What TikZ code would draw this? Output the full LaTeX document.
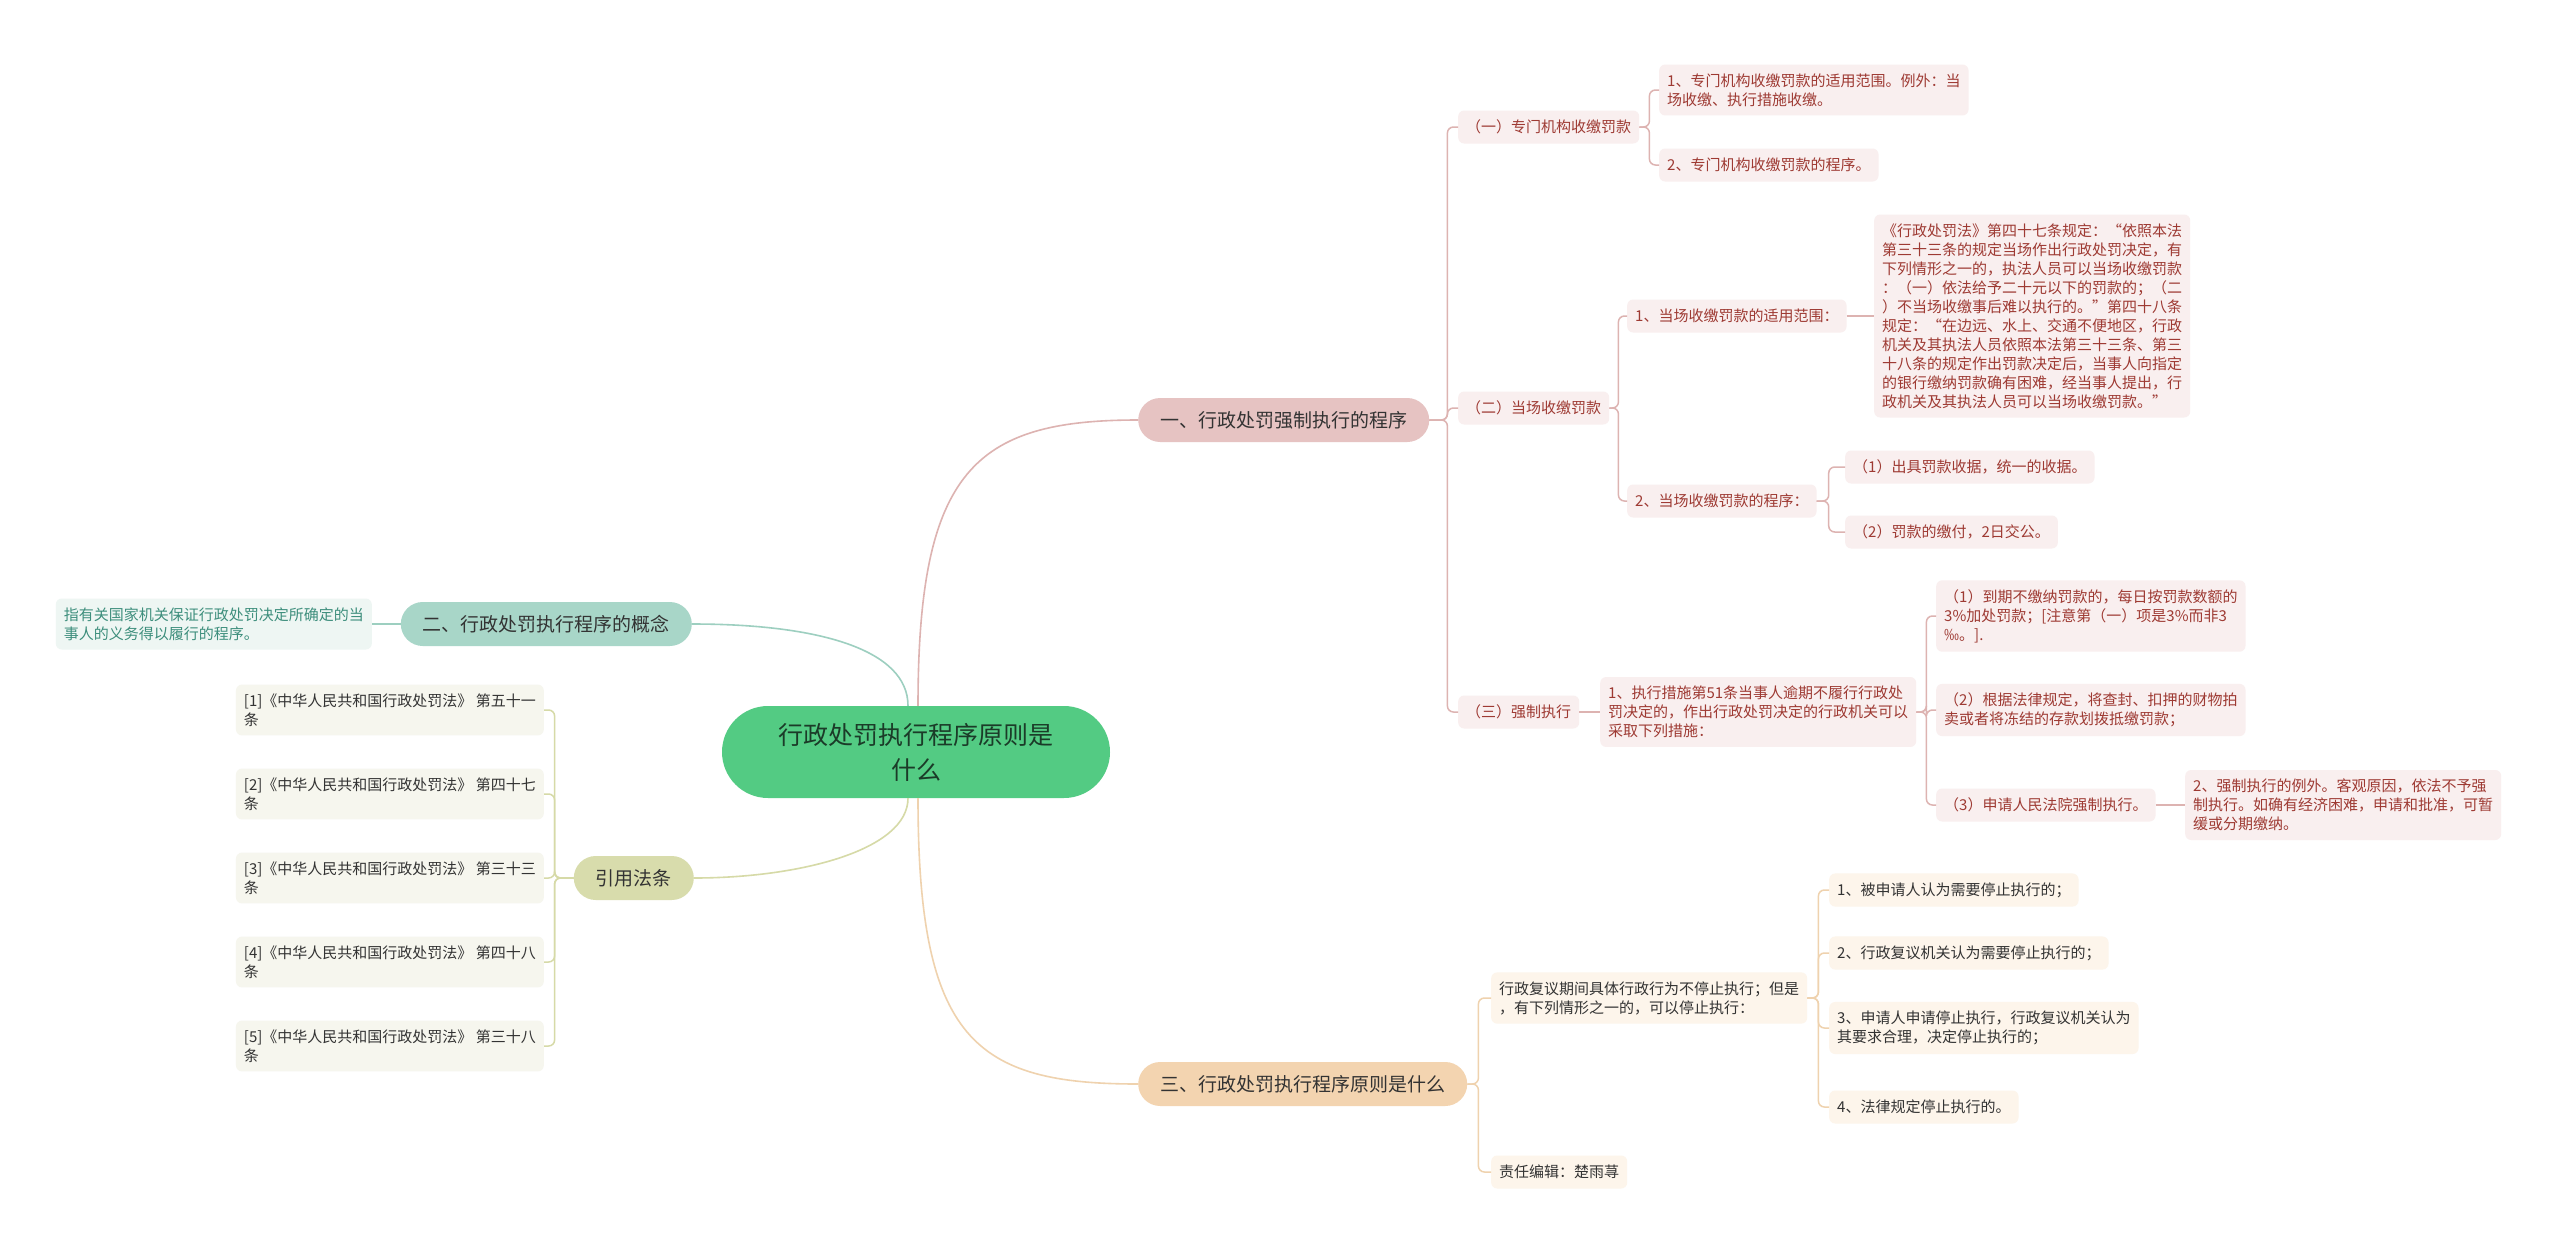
\documentclass[tikz,border=0pt]{standalone}
\usepackage{fontspec}
\setmainfont{Noto Sans CJK SC}
\usepackage{tikz}

\begin{document}
\begin{tikzpicture}[x=1pt,y=-1pt,
  radice/.style={fill=colRad, text=colRadTxt, rounded corners=46pt, minimum width=388pt, minimum height=92pt, align=center, font=\fontsize{25pt}{35pt}\selectfont},
  ramo/.style={rounded corners=22pt, minimum height=44pt, inner xsep=22pt, text=colScuro, font=\fontsize{19pt}{24pt}\selectfont},
  foglia/.style={rounded corners=6pt, minimum height=33pt, inner xsep=8pt, inner ysep=9pt, align=left, font=\fontsize{15pt}{19pt}\selectfont},
  fRosa/.style={foglia, fill=colRosaChiaro, text=colRosaTxt},
  fVerde/.style={foglia, fill=colVerdeChiaro, text=colVerdeTxt},
  fOliva/.style={foglia, fill=colOlivaChiaro, text=colScuro},
  fPesca/.style={foglia, fill=colPescaChiaro, text=colScuro},
  curva/.style={line width=1.6pt},
  gomito/.style={line width=1.5pt, rounded corners=6pt}
]

% Colori
\definecolor{colRad}{HTML}{53CB83}
\definecolor{colRadTxt}{HTML}{1B3B28}
\definecolor{colScuro}{HTML}{333333}
\definecolor{colRosa}{HTML}{E6C3C2}
\definecolor{colRosaChiaro}{HTML}{F9EFEF}
\definecolor{colRosaLinea}{HTML}{DDB3B1}
\definecolor{colRosaTxt}{HTML}{9E3A33}
\definecolor{colVerde}{HTML}{A8D6C8}
\definecolor{colVerdeChiaro}{HTML}{EEF6F3}
\definecolor{colVerdeLinea}{HTML}{9DCFC0}
\definecolor{colVerdeTxt}{HTML}{3D8E7C}
\definecolor{colOliva}{HTML}{D8DCAC}
\definecolor{colOlivaChiaro}{HTML}{F6F6EE}
\definecolor{colOlivaLinea}{HTML}{D6DAA7}
\definecolor{colPesca}{HTML}{F3D4B0}
\definecolor{colPescaChiaro}{HTML}{FDF5EB}
\definecolor{colPescaLinea}{HTML}{EFD2AE}

% Sfondo
\fill[white] (0,0) rectangle (2560,1253);
\useasboundingbox (0,0) rectangle (2560,1253);

% Nodo centrale
\node[radice] (centro) at (916,752) {行政处罚执行程序原则是\\什么};

% Rami principali
\node[ramo, fill=colRosa, anchor=west] (ramoA) at (1138,420) {一、行政处罚强制执行的程序};
\node[ramo, fill=colVerde, anchor=east] (ramoB) at (692,624) {二、行政处罚执行程序的概念};
\node[ramo, fill=colOliva, anchor=east] (ramoC) at (694,878) {引用法条};
\node[ramo, fill=colPesca, anchor=west] (ramoD) at (1138,1084) {三、行政处罚执行程序原则是什么};

% Ramo uno
\node[fRosa, anchor=west] (a1) at (1458,127) {（一）专门机构收缴罚款};
\node[fRosa, anchor=west] (a1p) at (1659,90) {1、专门机构收缴罚款的适用范围。例外：当\\场收缴、执行措施收缴。};
\node[fRosa, anchor=west] (a1q) at (1659,165) {2、专门机构收缴罚款的程序。};

\node[fRosa, anchor=west] (a2) at (1458,408) {（二）当场收缴罚款};
\node[fRosa, anchor=west] (a2p) at (1627,316) {1、当场收缴罚款的适用范围：};
\node[fRosa, anchor=west] (a2px) at (1874,316) {《行政处罚法》第四十七条规定：“依照本法\\第三十三条的规定当场作出行政处罚决定，有\\下列情形之一的，执法人员可以当场收缴罚款\\：（一）依法给予二十元以下的罚款的；（二\\）不当场收缴事后难以执行的。”第四十八条\\规定：“在边远、水上、交通不便地区，行政\\机关及其执法人员依照本法第三十三条、第三\\十八条的规定作出罚款决定后，当事人向指定\\的银行缴纳罚款确有困难，经当事人提出，行\\政机关及其执法人员可以当场收缴罚款。”};
\node[fRosa, anchor=west] (a2q) at (1627,501) {2、当场收缴罚款的程序：};
\node[fRosa, anchor=west] (a2q1) at (1845,467) {（1）出具罚款收据，统一的收据。};
\node[fRosa, anchor=west] (a2q2) at (1845,532) {（2）罚款的缴付，2日交公。};

\node[fRosa, anchor=west] (a3) at (1458,712) {（三）强制执行};
\node[fRosa, anchor=west] (a3p) at (1600,712) {1、执行措施第51条当事人逾期不履行行政处\\罚决定的，作出行政处罚决定的行政机关可以\\采取下列措施：};
\node[fRosa, anchor=west] (a3p1) at (1936,616) {（1）到期不缴纳罚款的，每日按罚款数额的\\3\%加处罚款；[注意第（一）项是3\%而非3\\‰。].};
\node[fRosa, anchor=west] (a3p2) at (1936,710) {（2）根据法律规定，将查封、扣押的财物拍\\卖或者将冻结的存款划拨抵缴罚款；};
\node[fRosa, anchor=west] (a3p3) at (1936,805) {（3）申请人民法院强制执行。};
\node[fRosa, anchor=west] (a3p3x) at (2185,805) {2、强制执行的例外。客观原因，依法不予强\\制执行。如确有经济困难，申请和批准，可暂\\缓或分期缴纳。};

% Ramo due
\node[fVerde, anchor=east] (b1) at (372,624) {指有关国家机关保证行政处罚决定所确定的当\\事人的义务得以履行的程序。};

% Riferimenti di legge
\node[fOliva, anchor=east] (c1) at (544,710) {[1]《中华人民共和国行政处罚法》~第五十一\\条};
\node[fOliva, anchor=east] (c2) at (544,794) {[2]《中华人民共和国行政处罚法》~第四十七\\条};
\node[fOliva, anchor=east] (c3) at (544,878) {[3]《中华人民共和国行政处罚法》~第三十三\\条};
\node[fOliva, anchor=east] (c4) at (544,962) {[4]《中华人民共和国行政处罚法》~第四十八\\条};
\node[fOliva, anchor=east] (c5) at (544,1046) {[5]《中华人民共和国行政处罚法》~第三十八\\条};

% Ramo tre
\node[fPesca, anchor=west] (d1) at (1491,998) {行政复议期间具体行政行为不停止执行；但是\\，有下列情形之一的，可以停止执行：};
\node[fPesca, anchor=west] (d11) at (1829,890) {1、被申请人认为需要停止执行的；};
\node[fPesca, anchor=west] (d12) at (1829,953) {2、行政复议机关认为需要停止执行的；};
\node[fPesca, anchor=west] (d13) at (1829,1028) {3、申请人申请停止执行，行政复议机关认为\\其要求合理，决定停止执行的；};
\node[fPesca, anchor=west] (d14) at (1829,1107) {4、法律规定停止执行的。};
\node[fPesca, anchor=west] (d2) at (1491,1172) {责任编辑：楚雨荨};

% Curve dal centro
\draw[curva, colRosaLinea] ([xshift=2pt]centro.north) .. controls (918,470) and (975,420) .. (ramoA.west);
\draw[curva, colVerdeLinea] ([xshift=-8pt]centro.north) .. controls (908,650) and (820,624) .. (ramoB.east);
\draw[curva, colOlivaLinea] ([xshift=-8pt]centro.south) .. controls (908,850) and (800,878) .. (ramoC.east);
\draw[curva, colPescaLinea] ([xshift=2pt]centro.south) .. controls (918,1040) and (975,1084) .. (ramoD.west);

% Collegamenti ramo uno
\draw[gomito, colRosaLinea] (ramoA.east) -- ++(18,0) |- (a1.west);
\draw[gomito, colRosaLinea] (ramoA.east) -- ++(18,0) |- (a2.west);
\draw[gomito, colRosaLinea] (ramoA.east) -- ++(18,0) |- (a3.west);
\draw[gomito, colRosaLinea] (a1.east) -- ++(10,0) |- (a1p.west);
\draw[gomito, colRosaLinea] (a1.east) -- ++(10,0) |- (a1q.west);
\draw[gomito, colRosaLinea] (a2.east) -- ++(9,0) |- (a2p.west);
\draw[gomito, colRosaLinea] (a2.east) -- ++(9,0) |- (a2q.west);
\draw[gomito, colRosaLinea] (a2p.east) -- (a2px.west);
\draw[gomito, colRosaLinea] (a2q.east) -- ++(12,0) |- (a2q1.west);
\draw[gomito, colRosaLinea] (a2q.east) -- ++(12,0) |- (a2q2.west);
\draw[gomito, colRosaLinea] (a3.east) -- (a3p.west);
\draw[gomito, colRosaLinea] (a3p.east) -- ++(10,0) |- (a3p1.west);
\draw[gomito, colRosaLinea] (a3p.east) -- ++(10,0) |- (a3p2.west);
\draw[gomito, colRosaLinea] (a3p.east) -- ++(10,0) |- (a3p3.west);
\draw[gomito, colRosaLinea] (a3p3.east) -- (a3p3x.west);

% Collegamenti rami a sinistra
\draw[gomito, colVerdeLinea] (ramoB.west) -- (b1.east);
\draw[gomito, colOlivaLinea] (ramoC.west) -- ++(-19,0) |- (c1.east);
\draw[gomito, colOlivaLinea] (ramoC.west) -- ++(-19,0) |- (c2.east);
\draw[gomito, colOlivaLinea] (ramoC.west) -- ++(-19,0) |- (c3.east);
\draw[gomito, colOlivaLinea] (ramoC.west) -- ++(-19,0) |- (c4.east);
\draw[gomito, colOlivaLinea] (ramoC.west) -- ++(-19,0) |- (c5.east);

% Collegamenti ramo tre
\draw[gomito, colPescaLinea] (ramoD.east) -- ++(11,0) |- (d1.west);
\draw[gomito, colPescaLinea] (ramoD.east) -- ++(11,0) |- (d2.west);
\draw[gomito, colPescaLinea] (d1.east) -- ++(11,0) |- (d11.west);
\draw[gomito, colPescaLinea] (d1.east) -- ++(11,0) |- (d12.west);
\draw[gomito, colPescaLinea] (d1.east) -- ++(11,0) |- (d13.west);
\draw[gomito, colPescaLinea] (d1.east) -- ++(11,0) |- (d14.west);

\end{tikzpicture}
\end{document}
